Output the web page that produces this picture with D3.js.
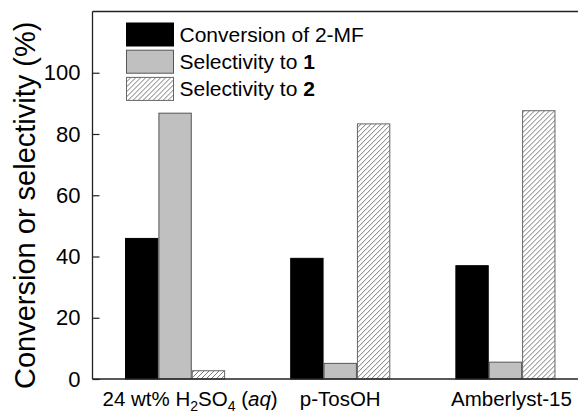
<!DOCTYPE html>
<html>
<head>
<meta charset="utf-8">
<script src="https://cdn.jsdelivr.net/npm/d3@7"></script>
<style>
  html, body { margin: 0; padding: 0; background: #fff; }
  svg { display: block; overflow: hidden; }
  text { font-family: "Liberation Sans", Arial, sans-serif; fill: #000; }
</style>
</head>
<body>
<svg id="chart" width="578" height="414"></svg>
<script>
// ---- data ----
const categories = ["H2SO4", "p-TosOH", "Amberlyst-15"];
const seriesNames = ["Conversion of 2-MF", "Selectivity to 1", "Selectivity to 2"];
const conversion = [45.9, 39.4, 37.0];
const selectivity1 = [86.8, 5.1, 5.5];
const selectivity2 = [2.7, 83.3, 87.6];
const yTicks = [0, 20, 40, 60, 80, 100];

const seriesValues = [conversion, selectivity1, selectivity2];

(function () {
const svg = d3.select("#chart");
const W = 578;
const mLeft = 92.5, mRight = 588, mTop = 11.5, mBottom = 379;

// hatch pattern
const defs = svg.append("defs");
const pat = defs.append("pattern")
  .attr("id", "hatch")
  .attr("patternUnits", "userSpaceOnUse")
  .attr("width", 5).attr("height", 5);
pat.append("rect").attr("width", 5).attr("height", 5).attr("fill", "#fff");
pat.append("path")
  .attr("d", "M0,5 L5,0 M-1,1 L1,-1 M4,6 L6,4")
  .attr("stroke", "#555").attr("stroke-width", 0.8);

const styles = [
  { fill: "#000", stroke: "#000" },
  { fill: "#c0c0c0", stroke: "#555" },
  { fill: "url(#hatch)", stroke: "#666" }
];

const x0 = d3.scaleBand().domain(categories).range([mLeft, mRight])
  .paddingInner(0.394).paddingOuter(0.197);
const x1 = d3.scaleBand().domain(seriesNames).range([0, x0.bandwidth()]);
const y = d3.scaleLinear().domain([0, 120]).range([mBottom, mTop]);

// bars
const groups = svg.append("g").selectAll("g")
  .data(categories)
  .join("g")
  .attr("transform", d => `translate(${x0(d)},0)`);

groups.selectAll("rect")
  .data((c, ci) => seriesNames.map((s, si) => ({ s, si, v: seriesValues[si][ci] })))
  .join("rect")
  .attr("x", d => x1(d.s) + 0.5)
  .attr("y", d => y(d.v))
  .attr("width", x1.bandwidth() - 1)
  .attr("height", d => y(0) - y(d.v))
  .attr("fill", d => styles[d.si].fill)
  .attr("stroke", d => styles[d.si].stroke)
  .attr("stroke-width", 1);

// frame (left, top, bottom)
svg.append("line").attr("x1", mLeft).attr("x2", mLeft).attr("y1", mTop).attr("y2", mBottom)
  .attr("stroke", "#222").attr("stroke-width", 1.3);
svg.append("line").attr("x1", mLeft).attr("x2", W + 20).attr("y1", mTop).attr("y2", mTop)
  .attr("stroke", "#222").attr("stroke-width", 1.3);
svg.append("line").attr("x1", mLeft).attr("x2", W + 20).attr("y1", mBottom).attr("y2", mBottom)
  .attr("stroke", "#222").attr("stroke-width", 1.3);

// y axis with inward ticks
const yAxis = d3.axisLeft(y).tickValues(yTicks).tickSizeInner(-7).tickSizeOuter(0).tickPadding(12);
const gy = svg.append("g").attr("transform", `translate(${mLeft},0)`).call(yAxis);
gy.select(".domain").remove();
gy.selectAll(".tick line").attr("stroke", "#222").attr("stroke-width", 1.2);
gy.selectAll(".tick text")
  .style("font-family", '"Liberation Sans", Arial, sans-serif')
  .style("font-size", "22px").attr("fill", "#000");

// y-axis title
svg.append("text")
  .attr("transform", `translate(35,${(mTop + mBottom) / 2 + 10}) rotate(-90)`)
  .attr("text-anchor", "middle")
  .style("font-size", "29px")
  .text("Conversion or selectivity (%)");

// x labels
const xlab = svg.append("g").style("font-size", "20.5px");
const xOffsets = [15, 0, 6];
const lab1 = xlab.append("text")
  .attr("x", x0(categories[0]) + x0.bandwidth() / 2 + xOffsets[0])
  .attr("y", 406).attr("text-anchor", "middle");
lab1.append("tspan").text("24 wt% H");
lab1.append("tspan").text("2").style("font-size", "14px").attr("dy", 5);
lab1.append("tspan").text("SO").attr("dy", -5);
lab1.append("tspan").text("4").style("font-size", "14px").attr("dy", 5);
lab1.append("tspan").text(" (").attr("dy", -5);
lab1.append("tspan").text("aq").style("font-style", "italic");
lab1.append("tspan").text(")");
[1, 2].forEach(i => {
  xlab.append("text")
    .attr("x", x0(categories[i]) + x0.bandwidth() / 2 + xOffsets[i])
    .attr("y", 406).attr("text-anchor", "middle")
    .text(categories[i]);
});

// legend
const legend = svg.append("g").attr("transform", "translate(126,23)");
const legendLabels = [
  [{ t: "Conversion of 2-MF" }],
  [{ t: "Selectivity to " }, { t: "1", b: true }],
  [{ t: "Selectivity to " }, { t: "2", b: true }]
];
legendLabels.forEach((parts, i) => {
  const row = legend.append("g").attr("transform", `translate(0,${i * 27.2})`);
  row.append("rect").attr("x", 0.5).attr("y", 0).attr("width", 47).attr("height", 23)
    .attr("fill", styles[i].fill).attr("stroke", styles[i].stroke).attr("stroke-width", 1);
  const t = row.append("text").attr("x", 53.5).attr("y", 19).style("font-size", "21px");
  parts.forEach(p => t.append("tspan").text(p.t).style("font-weight", p.b ? "bold" : "normal"));
});
})();
</script>
</body>
</html>
